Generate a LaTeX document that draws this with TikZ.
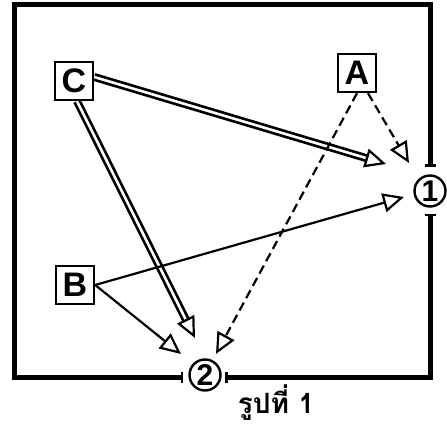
\documentclass[tikz,border=0pt]{standalone}
\usepackage{fontspec}
\setmainfont{Liberation Sans}
\newfontfamily\thaifont[Script=Thai]{Loma}
\usetikzlibrary{arrows.meta,calc}
\tikzset{
  frame/.style={line width=5pt, line join=miter},
  barend/.style={{Bar[width=11pt,line width=2.5pt]}-{Bar[width=11pt,line width=2.5pt]}},
  box/.style={draw, line width=2.4pt, minimum size=38pt, inner sep=0pt, font=\fontsize{34}{34}\selectfont\bfseries},
  station/.style={draw, circle, line width=2.4pt, minimum size=31pt, inner sep=0pt, font=\fontsize{30}{30}\selectfont\bfseries},
  tri/.style={-{Triangle[open,length=21pt,width=19pt,line width=2.2pt]}, line width=2.2pt},
  dbl/.style={double, double distance=2.6pt, line width=2.7pt, shorten >=19pt},
  dashline/.style={dash pattern=on 9pt off 5pt}
}
\begin{document}
\begin{tikzpicture}[x=1pt,y=-1pt]
\useasboundingbox (0,0) rectangle (447,427);
% frame
\draw[frame, barend] (183,378) -- (14,378) -- (14,5) -- (430,5) -- (430,167);
\draw[frame, barend] (430,214) -- (430,378) -- (225,378);
\node[station] (one) at (430,191) {1};
\node[station] (two) at (205,375) {2};
% boxes
\node[box] (C) at (74,81) {C};
\node[box] (A) at (357,73) {A};
\node[box] (B) at (75,285) {B};
% arrow tips
\coordinate (tC1) at (386,164);
\coordinate (tC2) at (195,338);
\coordinate (tA1) at (409,163);
\coordinate (tA2) at (216,354);
\coordinate (tB1) at (404,197);
\coordinate (tB2) at (181,354);
\coordinate (sC1) at ($(C.east)+(0,-4)$);
\coordinate (sC2) at ($(C.south)+(3,0)$);
\coordinate (sA1) at ($(A.south)+(11,0)$);
% double lines C
\draw[dbl] (sC1) -- (tC1);
\draw[tri] ($(tC1)!21pt!(sC1)$) -- (tC1);
\draw[dbl] (sC2) -- (tC2);
\draw[tri] ($(tC2)!21pt!(sC2)$) -- (tC2);
% dashed A
\draw[tri, dashline] (sA1) -- (tA1);
\draw[tri, dashline] (A.south) -- (tA2);
% solid B
\draw[tri] (B.east) -- (tB1);
\draw[tri] (B.east) -- (tB2);
% caption
\node[font=\thaifont\fontsize{28}{28}\selectfont\bfseries] (cap) at (276,403) {รูปที่ 1};
\end{tikzpicture}
\end{document}
